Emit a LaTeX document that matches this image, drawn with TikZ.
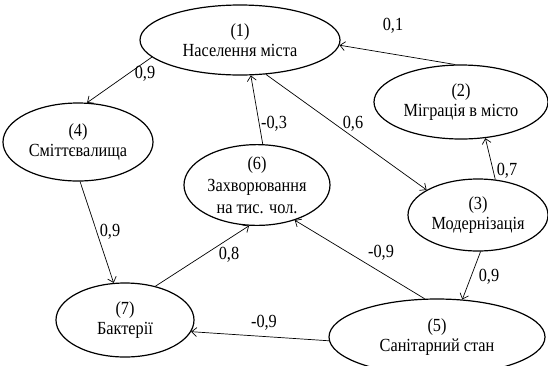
\documentclass[tikz,border=0pt]{standalone}
\usepackage{fontspec}
\setmainfont{Liberation Serif}[FakeStretch=0.88]
\usetikzlibrary{shapes.geometric,arrows.meta}
\begin{document}
\begin{tikzpicture}[x=1pt,y=-1pt,
  el/.style={draw, ellipse, line width=1.2pt, inner sep=0pt, align=center, font=\fontsize{18.5}{20}\selectfont},
  conn/.style={draw, line width=0.7pt, -{Straight Barb[length=5pt,width=9pt,line width=0.7pt]}},
  lab/.style={font=\fontsize{18.5}{17}\selectfont, inner sep=0pt}]
\useasboundingbox (0,0) rectangle (548,365);
\node[el, minimum width=200pt, minimum height=70pt] (n1) at (240,40) {(1)\\Населення міста};
\node[el, minimum width=174pt, minimum height=74pt] (n2) at (461,102) {(2)\\Міграція в місто};
\node[el, minimum width=140pt, minimum height=72pt] (n3) at (478,215) {(3)\\Модернізація};
\node[el, minimum width=150pt, minimum height=78pt] (n4) at (78,142) {(4)\\Сміттєвалища};
\node[el, minimum width=216pt, minimum height=76pt] (n5) at (437,337) {(5)\\Санітарний стан};
\node[el, minimum width=146pt, minimum height=70pt, font=\fontsize{18.5}{22}\selectfont] (n6) at (257,185) {(6)\\Захворювання\\на тис. чол.};
\node[el, minimum width=138pt, minimum height=74pt] (n7) at (125,320) {(7)\\Бактерії};

\draw[conn] (n2.99) -- (n1.-3);
\draw[conn] (n1.191) -- (n4.77);
\draw[conn] (n6.82) -- (n1.-73);
\draw[conn] (n1.-53) -- (n3.154);
\draw[conn] (n3.64) -- (n2.-56);
\draw[conn] (n4.-87) -- (n7.107);
\draw[conn] (n7.48) -- (n6.-101);
\draw[conn] (n5.108) -- (n6.-43);
\draw[conn] (n3.-86) -- (n5.56);
\draw[conn] (n5.182) -- (n7.-10);

\node[lab] (l21) at (393,26) {0,1};
\node[lab] (l14) at (145,74) {0,9};
\node[lab] (l61) at (274,124) {-0,3};
\node[lab] (l13) at (353,124) {0,6};
\node[lab] (l32) at (507,171) {0,7};
\node[lab] (l47) at (110,232) {0,9};
\node[lab] (l76) at (229,255) {0,8};
\node[lab] (l56) at (381,253) {-0,9};
\node[lab] (l35) at (489,277) {0,9};
\node[lab] (l57) at (264,323) {-0,9};
\end{tikzpicture}
\end{document}
